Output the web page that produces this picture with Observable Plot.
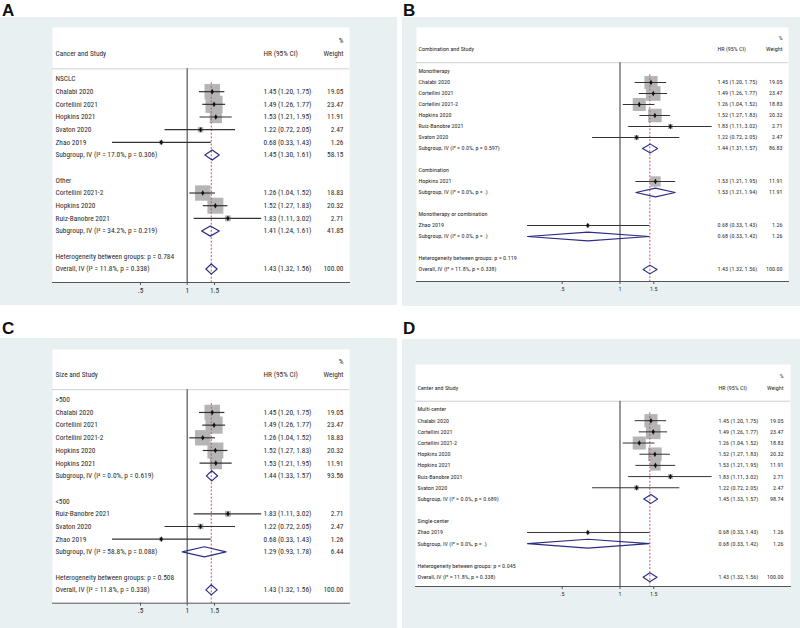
<!DOCTYPE html>
<html><head><meta charset="utf-8">
<script src="https://cdn.jsdelivr.net/npm/d3@7"></script>
<script src="https://cdn.jsdelivr.net/npm/@observablehq/plot@0.6"></script>
<style>
html,body{margin:0;padding:0;background:#fff;}
#root{position:relative;width:800px;height:628px;overflow:hidden;background:#fff;}
.lbl{position:absolute;font:bold 17px "Liberation Sans",Arial,sans-serif;color:#111;line-height:1;}
.pan{position:absolute;background:#e8f0f2;}
.pan svg{display:block;}
.pan svg text{-webkit-font-smoothing:antialiased;}
</style></head><body><div id="root"></div>
<script>
// ---------- data ----------
const studyNames  = ["Chalabi 2020","Cortellini 2021","Cortellini 2021-2","Hopkins 2020","Hopkins 2021","Ruiz-Banobre 2021","Svaton 2020","Zhao 2019"];
const studyHR     = [1.45, 1.49, 1.26, 1.52, 1.53, 1.83, 1.22, 0.68];
const studyLo     = [1.20, 1.26, 1.04, 1.27, 1.21, 1.11, 0.72, 0.33];
const studyHi     = [1.75, 1.77, 1.52, 1.83, 1.95, 3.02, 2.05, 1.43];
const studyWeight = [19.05, 23.47, 18.83, 20.32, 11.91, 2.71, 2.47, 1.26];

const overallHR = 1.43, overallLo = 1.32, overallHi = 1.56, overallW = 100;
const overallI2 = "11.8%", overallP = "0.338";

const xTicks = [0.5, 1, 1.5];
const xTickLabels = [".5", "1", "1.5"];

// Panel A
const aTitle = "Cancer and Study";
const aGroups = ["NSCLC", "Other"];
const aMembers = [["Chalabi 2020","Cortellini 2021","Hopkins 2021","Svaton 2020","Zhao 2019"],
                  ["Cortellini 2021-2","Hopkins 2020","Ruiz-Banobre 2021"]];
const aSubHR = [1.45, 1.41], aSubLo = [1.30, 1.24], aSubHi = [1.61, 1.61];
const aSubW = [58.15, 41.85], aSubI2 = ["17.0%", "34.2%"], aSubP = ["0.306", "0.219"];
const aHetP = "0.784";

// Panel B
const bTitle = "Combination and Study";
const bGroups = ["Monotherapy", "Combination", "Monotherapy or combination"];
const bMembers = [["Chalabi 2020","Cortellini 2021","Cortellini 2021-2","Hopkins 2020","Ruiz-Banobre 2021","Svaton 2020"],
                  ["Hopkins 2021"], ["Zhao 2019"]];
const bSubHR = [1.44, 1.53, 0.68], bSubLo = [1.31, 1.21, 0.33], bSubHi = [1.57, 1.94, 1.42];
const bSubW = [86.83, 11.91, 1.26], bSubI2 = ["0.0%", "0.0%", "0.0%"], bSubP = ["0.597", ".", "."];
const bHetP = "0.119";

// Panel C
const cTitle = "Size and Study";
const cGroups = [">500", "<500"];
const cMembers = [["Chalabi 2020","Cortellini 2021","Cortellini 2021-2","Hopkins 2020","Hopkins 2021"],
                  ["Ruiz-Banobre 2021","Svaton 2020","Zhao 2019"]];
const cSubHR = [1.44, 1.29], cSubLo = [1.33, 0.93], cSubHi = [1.57, 1.78];
const cSubW = [93.56, 6.44], cSubI2 = ["0.0%", "58.8%"], cSubP = ["0.619", "0.088"];
const cHetP = "0.508";

// Panel D
const dTitle = "Center and Study";
const dGroups = ["Multi-center", "Single-center"];
const dMembers = [["Chalabi 2020","Cortellini 2021","Cortellini 2021-2","Hopkins 2020","Hopkins 2021","Ruiz-Banobre 2021","Svaton 2020"],
                  ["Zhao 2019"]];
const dSubHR = [1.45, 0.68], dSubLo = [1.33, 0.33], dSubHi = [1.57, 1.42];
const dSubW = [98.74, 1.26], dSubI2 = ["0.0%", "0.0%"], dSubP = ["0.689", "."];
const dHetP = "0.045";

// ---------- helpers ----------
function buildRows(groups, members, subHR, subLo, subHi, subW, subI2, subP, hetP) {
  const rows = [];
  groups.forEach((g, gi) => {
    rows.push({type: "group", label: g});
    members[gi].forEach(name => {
      const k = studyNames.indexOf(name);
      rows.push({type: "study", label: name, hr: studyHR[k], lo: studyLo[k], hi: studyHi[k], w: studyWeight[k]});
    });
    rows.push({type: "sub", label: `Subgroup, IV (I\u00B2 = ${subI2[gi]}, p = ${subP[gi]})`,
               hr: subHR[gi], lo: subLo[gi], hi: subHi[gi], w: subW[gi]});
    rows.push({type: "blank"});
  });
  rows.push({type: "het", label: `Heterogeneity between groups: p = ${hetP}`});
  rows.push({type: "overall", label: `Overall, IV (I\u00B2 = ${overallI2}, p = ${overallP})`,
             hr: overallHR, lo: overallLo, hi: overallHi, w: overallW});
  rows.forEach((r, i) => r.i = i);
  return rows;
}

function fontAvailable(name) {
  const c = document.createElement("canvas").getContext("2d");
  const s = "Cancer and Study 1.45 (1.20, 1.75) Weight";
  c.font = "40px monospace"; const w0 = c.measureText(s).width;
  c.font = `40px "${name}", monospace`; const w1 = c.measureText(s).width;
  c.font = "40px serif"; const w2 = c.measureText(s).width;
  c.font = `40px "${name}", serif`; const w3 = c.measureText(s).width;
  return w0 !== w1 || w2 !== w3;
}
const candidates = ["Liberation Sans Narrow", "Arial Narrow", "Nimbus Sans Narrow", "Roboto Condensed", "DejaVu Sans Condensed", "Liberation Sans"];
const FONT = candidates.find(fontAvailable) || "sans-serif";
function sizeFor(text, targetWidth) {
  const c = document.createElement("canvas").getContext("2d");
  c.font = `10px "${FONT}"`;
  return 10 * targetWidth / c.measureText(text).width;
}
const fsAC = Math.min(8.6, sizeFor("Cancer and Study", 50.7));
const fsBD = Math.min(7.2, sizeFor("Combination and Study", 55.7));

const TXT = "#2b2b2b";
function hrText(d) { return `${d.hr.toFixed(2)} (${d.lo.toFixed(2)}, ${d.hi.toFixed(2)})`; }

function drawPanel(cfg) {
  const rows = cfg.rows, n = rows.length;
  const studies = rows.filter(r => r.type === "study");
  const summaries = rows.filter(r => r.type === "sub" || r.type === "overall");
  const labelled = rows.filter(r => r.label);
  const withHR = rows.filter(r => r.hr != null);
  const bottomRow = (cfg.height - cfg.mb - cfg.row0) / cfg.step;
  const h = 0.4;
  const diamonds = summaries.flatMap(d => [
    {id: d.i, x: d.lo, y: d.i}, {id: d.i, x: d.hr, y: d.i - h},
    {id: d.i, x: d.hi, y: d.i}, {id: d.i, x: d.hr, y: d.i + h}, {id: d.i, x: d.lo, y: d.i}
  ]);
  const header = [
    {t: "%", row: cfg.pctRow, col: "w"},
    {t: cfg.title, row: cfg.headRow, col: "name"},
    {t: "HR (95% CI)", row: cfg.headRow, col: "hr"},
    {t: "Weight", row: cfg.headRow, col: "w"}
  ];
  const fs = cfg.fs;
  const tOpt = {fontSize: fs, fill: TXT, fontFamily: FONT};
  return Plot.plot({
    width: cfg.width, height: cfg.height,
    marginLeft: cfg.ml, marginRight: cfg.mr, marginTop: cfg.mt, marginBottom: cfg.mb,
    style: {background: "transparent", fontFamily: FONT, fontSize: fs + "px", color: TXT, overflow: "visible"},
    x: {type: "log", domain: [0.5, 1.5], range: cfg.xr, label: null},
    y: {domain: [0, n - 1], range: [cfg.row0, cfg.row0 + cfg.step * (n - 1)], axis: null},
    r: {type: "sqrt", domain: [0, 100], range: [0, cfg.rmax]},
    marks: [
      Plot.frame({fill: "white", stroke: null}),
      Plot.ruleY([cfg.sepRow], {stroke: "#cfcfcf", strokeWidth: 1}),
      Plot.ruleX([1], {y1: cfg.sepRow, y2: bottomRow, stroke: "#555", strokeWidth: 1.2}),
      Plot.dot(studies, {x: "hr", y: "i", r: "w", symbol: "square", fill: "#b5b5b5", stroke: null}),
      Plot.ruleX([overallHR], {y1: 0.3, y2: bottomRow, stroke: "#c9575a", strokeWidth: 1, strokeDasharray: "2,1.6"}),
      Plot.ruleY(studies, {y: "i", x1: "lo", x2: "hi", stroke: "#333", strokeWidth: cfg.ciw}),
      Plot.dot(studies, {x: "hr", y: "i", r: 1.7, symbol: "diamond", fill: "#111", stroke: null}),
      Plot.line(diamonds, {x: "x", y: "y", z: "id", stroke: "#2a2d86", strokeWidth: cfg.dw, fill: "none"}),
      // header
      Plot.text(header.filter(d => d.col === "w"), {y: "row", text: "t", frameAnchor: "right", dx: -cfg.wDx, textAnchor: "end", ...tOpt}),
      Plot.text(header.filter(d => d.col === "name"), {y: "row", text: "t", frameAnchor: "left", dx: cfg.nameDx, textAnchor: "start", ...tOpt}),
      Plot.text(header.filter(d => d.col === "hr"), {y: "row", text: "t", frameAnchor: "left", dx: cfg.hrDx, textAnchor: "start", ...tOpt}),
      // rows
      Plot.text(labelled, {y: "i", text: "label", frameAnchor: "left", dx: cfg.nameDx, textAnchor: "start", ...tOpt}),
      Plot.text(withHR, {y: "i", text: hrText, frameAnchor: "left", dx: cfg.hrDx, textAnchor: "start", ...tOpt}),
      Plot.text(withHR, {y: "i", text: d => d.w.toFixed(2), frameAnchor: "right", dx: -cfg.wDx, textAnchor: "end", ...tOpt}),
      // axis
      Plot.frame({anchor: "bottom", stroke: "#555", strokeWidth: 1}),
      Plot.axisX({ticks: xTicks, tickFormat: d => xTickLabels[xTicks.indexOf(d)], tickSize: 3, tickPadding: cfg.tickPad,
                  anchor: "bottom", stroke: "#555", fontSize: fs, fill: TXT, label: null})
    ]
  });
}

const root = document.getElementById("root");
function place(letter, lx, ly, left, top, w, hgt, cfg) {
  const L = document.createElement("div");
  L.className = "lbl"; L.textContent = letter; L.style.left = lx + "px"; L.style.top = ly + "px";
  root.appendChild(L);
  const P = document.createElement("div");
  P.className = "pan";
  Object.assign(P.style, {left: left + "px", top: top + "px", width: w + "px", height: hgt + "px"});
  P.appendChild(drawPanel({...cfg, width: w, height: hgt}));
  root.appendChild(P);
}

const acLayout = {ml: 52, mr: 48, step: 12.67, xr: [140, 214], rmax: 20, nameDx: 3, wDx: 6,
                  pctRow: -3, headRow: -2, sepRow: -0.8, fs: fsAC, ciw: 1.2, dw: 1.2, tickPad: 2};
const bdLayout = {ml: 14, mr: 12, xr: [159.7, 251.3], rmax: 17, nameDx: 2, wDx: 6,
                  pctRow: -3, headRow: -2, sepRow: -0.8, fs: fsBD, ciw: 1, dw: 1.1, tickPad: 2.5};

place("A", 2, 2, 0, 17, 397, 288, {...acLayout, mt: 10, mb: 23, row0: 61.5, hrDx: 211, title: aTitle,
      rows: buildRows(aGroups, aMembers, aSubHR, aSubLo, aSubHi, aSubW, aSubI2, aSubP, aHetP)});
place("B", 403, 2, 402, 17, 398, 289, {...bdLayout, mt: 10, mb: 25, row0: 54, step: 11, hrDx: 301, title: bTitle,
      rows: buildRows(bGroups, bMembers, bSubHR, bSubLo, bSubHi, bSubW, bSubI2, bSubP, bHetP)});
place("C", 2, 320, 0, 338, 397, 290, {...acLayout, mt: 11, mb: 25.3, row0: 61.3, hrDx: 211, title: cTitle,
      rows: buildRows(cGroups, cMembers, cSubHR, cSubLo, cSubHi, cSubW, cSubI2, cSubP, cHetP)});
place("D", 403, 320, 402, 339, 398, 289, {...bdLayout, mt: 25, mb: 42, mr: 10, ml: 13, row0: 70, step: 11.18, hrDx: 303, wDx: 7,
      pctRow: -2.95, headRow: -1.94, sepRow: -0.74, title: dTitle,
      rows: buildRows(dGroups, dMembers, dSubHR, dSubLo, dSubHi, dSubW, dSubI2, dSubP, dHetP)});
</script></body></html>
